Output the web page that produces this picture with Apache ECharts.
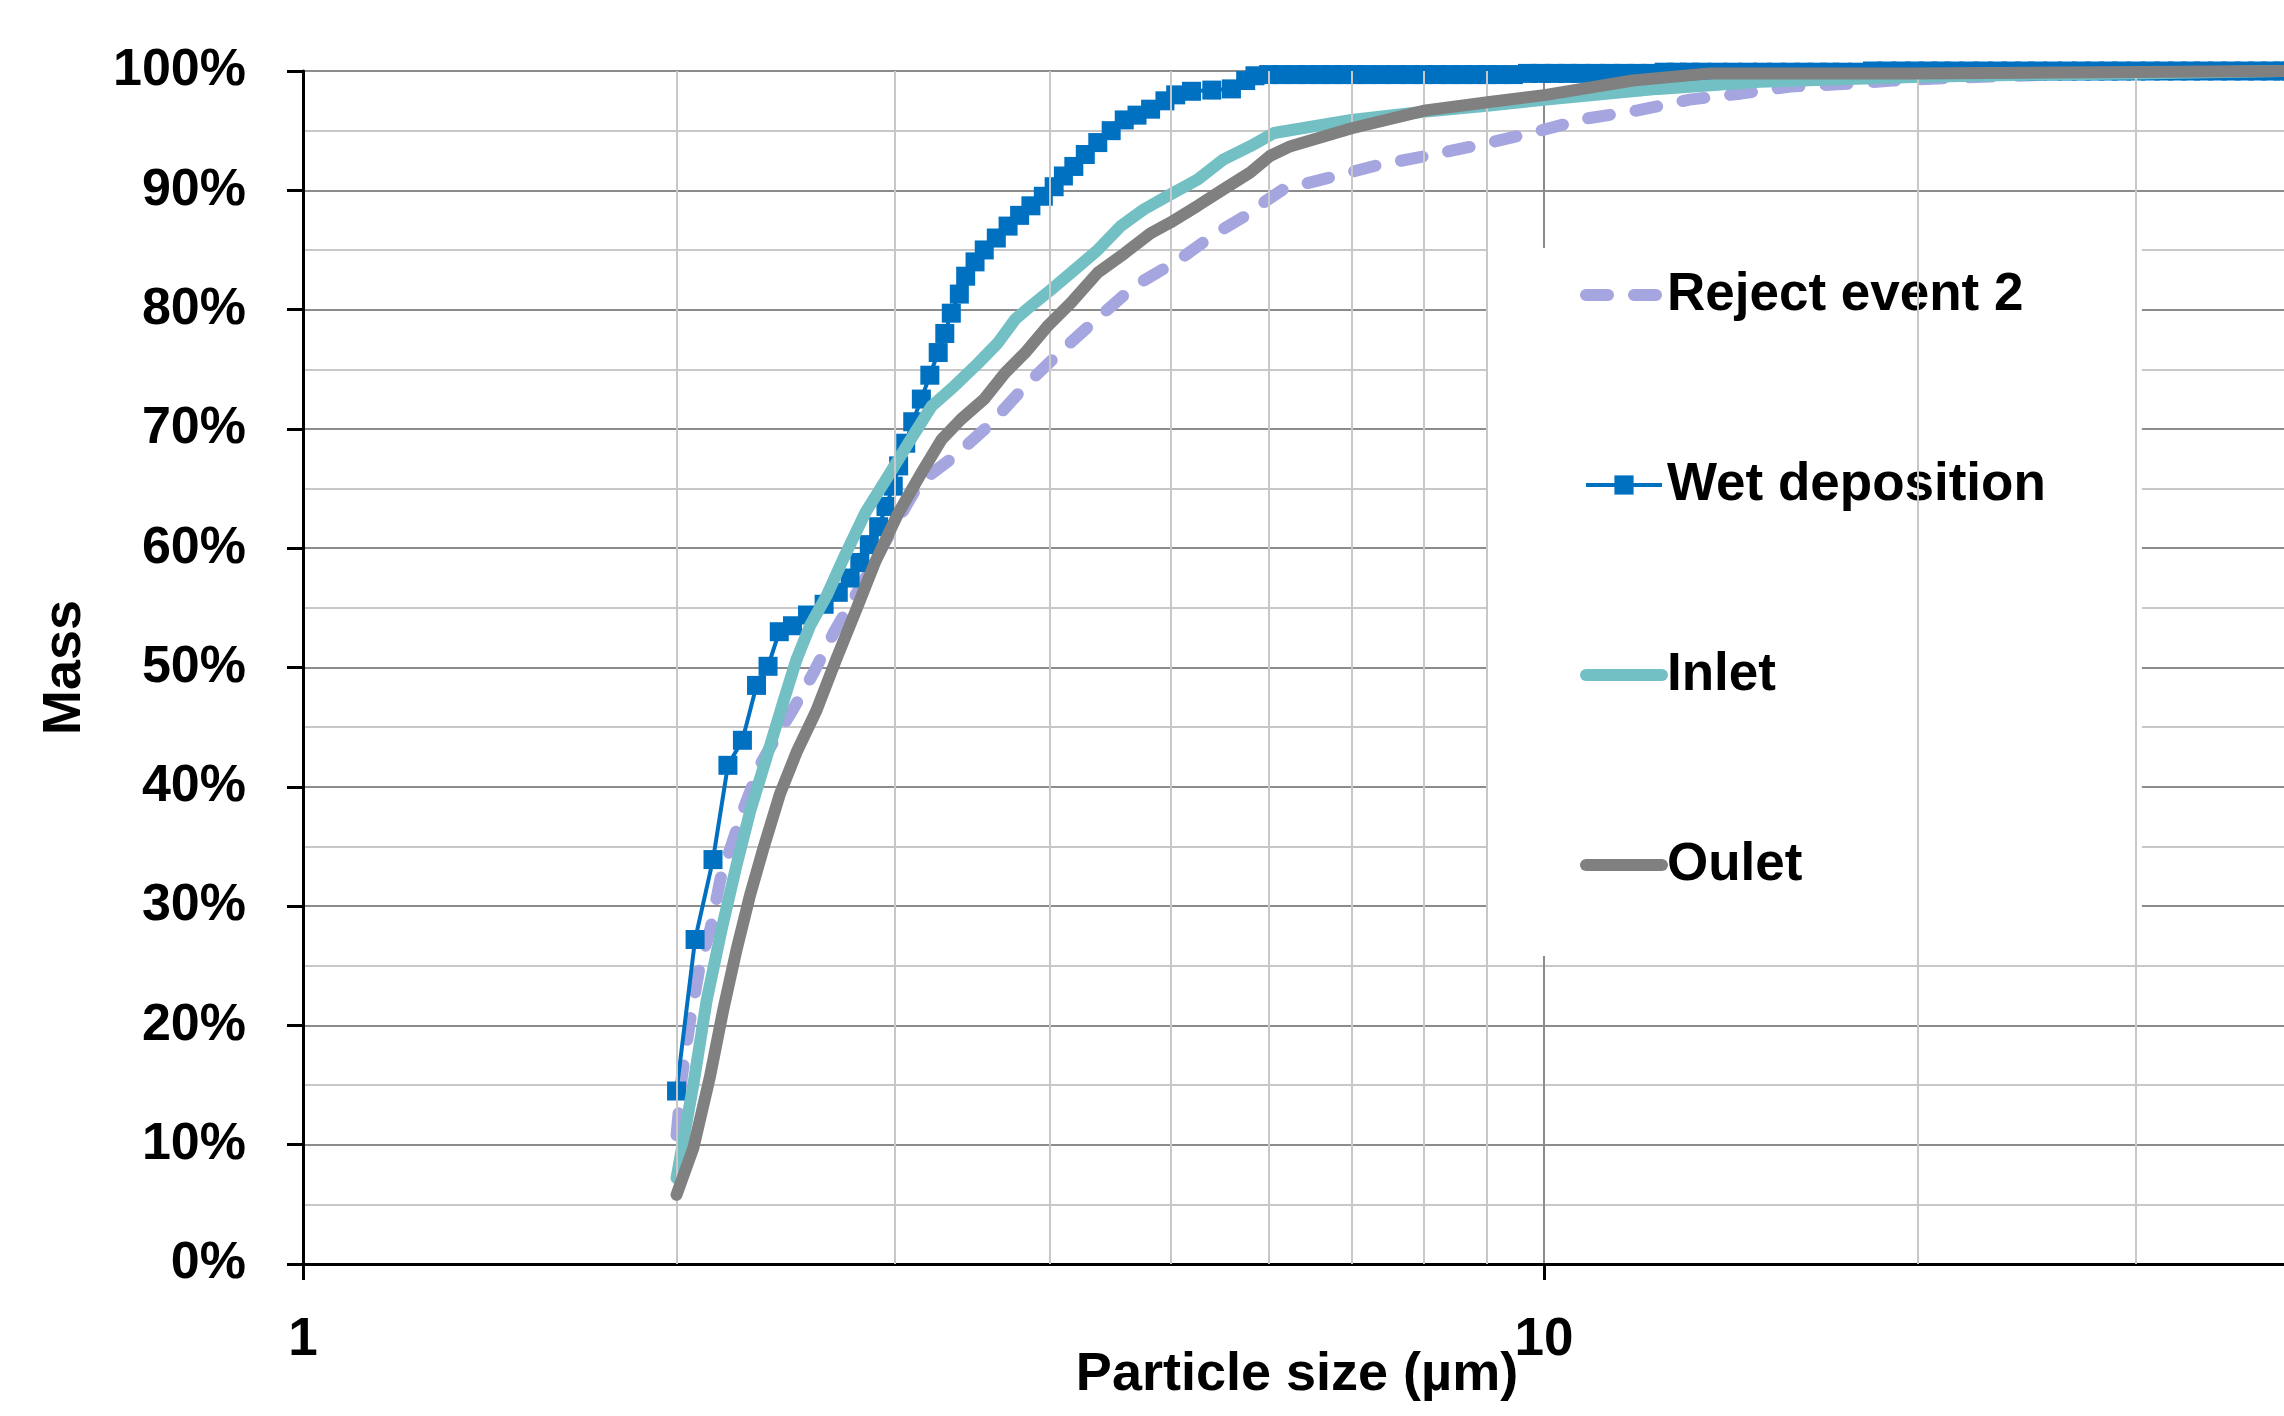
<!DOCTYPE html>
<html><head><meta charset="utf-8">
<script src="https://cdn.jsdelivr.net/npm/echarts@6/dist/echarts.min.js"></script>
<style>html,body{margin:0;padding:0;background:#fff}#c{width:2284px;height:1416px}</style>
</head><body><div id="c"></div>
<script>
// ---- data (particle size in µm, cumulative mass in %) ----
const seriesNames = ['Reject event 2', 'Wet deposition', 'Inlet', 'Oulet'];

const rejectX = [2.00,2.02,2.05,2.09,2.13,2.17,2.26,2.34,2.41,2.48,2.58,2.68,2.84,2.96,3.14,3.34,3.58,3.82,4.08,4.36,4.68,5.07,5.44,5.80,5.95,6.17,6.68,7.34,8.15,8.96,9.85,10.8,11.9,13.1,14.4,15.8,17.4,19.1,21.0,24.0,28.0,33.0,40.0];
const rejectY = [10.8,15.7,20.3,25.2,28.1,32.3,37.9,42.0,44.3,46.4,49.6,53.0,57.5,60.9,65.5,67.6,70.4,73.6,76.5,79.2,82.0,84.1,86.4,88.1,89.0,90.1,91.0,92.1,93.0,93.9,94.9,96.0,96.7,97.6,98.1,98.7,98.9,99.2,99.4,99.6,99.8,99.9,100];

const wetX = [2.00,2.07,2.14,2.20,2.26,2.32,2.37,2.42,2.48,2.55,2.63,2.70,2.76,2.81,2.86,2.91,2.95,2.99,3.02,3.06,3.10,3.15,3.20,3.25,3.29,3.33,3.38,3.42,3.48,3.54,3.62,3.70,3.78,3.86,3.95,4.03,4.10,4.18,4.27,4.37,4.48,4.59,4.70,4.82,4.95,5.05,5.20,5.40,5.60,5.75,5.85,
  6.0,6.15,6.3,6.45,6.6,6.75,6.9,7.05,7.2,7.4,7.6,7.8,8.0,8.2,8.4,8.6,8.8,9.0,9.2,9.45,
  9.7,9.95,10.2,10.45,10.7,11.0,11.3,11.6,11.9,12.2,
  12.5,12.8,13.1,13.4,13.8,14.2,14.6,15.0,15.4,15.8,16.2,16.6,17.0,17.4,17.9,
  18.4,18.9,19.4,19.9,20.4,20.9,21.4,22.0,22.6,23.2,23.8,24.4,25.0,25.7,26.4,27.1,27.8,28.5,29.2,30.0,30.8,31.6,32.4,33.2,34.0,34.9,35.8,36.7,37.6,38.5,39.4,40.0];
const wetY = [14.5,27.2,33.9,41.8,43.9,48.5,50.1,53.0,53.5,54.4,55.3,56.3,57.5,58.8,60.3,61.8,63.5,65.2,66.9,68.8,70.6,72.5,74.5,76.4,78.0,79.7,81.3,82.8,84.0,85.0,86.0,87.0,87.9,88.7,89.5,90.3,91.2,92.0,93.0,94.0,95.0,95.9,96.3,96.8,97.5,98.0,98.3,98.4,98.5,99.2,99.6,
  99.7,99.7,99.7,99.7,99.7,99.7,99.7,99.7,99.7,99.7,99.7,99.7,99.7,99.7,99.7,99.7,99.7,99.7,99.7,99.7,
  99.8,99.8,99.8,99.8,99.8,99.8,99.8,99.8,99.8,99.8,
  99.9,99.9,99.9,99.9,99.9,99.9,99.9,99.9,99.9,99.9,99.9,99.9,99.9,99.9,99.9,
  100,100,100,100,100,100,100,100,100,100,100,100,100,100,100,100,100,100,100,100,100,100,100,100,100,100,100,100,100,100,100,100];

const inletX = [2.00,2.063,2.115,2.175,2.235,2.292,2.364,2.438,2.499,2.562,2.642,2.725,2.84,2.96,3.075,3.21,3.35,3.50,3.63,3.75,3.86,4.01,4.16,4.37,4.56,4.76,4.97,5.26,5.52,5.80,6.06,7.0,8.03,9.04,10.04,12.36,14.93,19.84,25.0,30.0,40.0];
const inletY = [7.2,15.0,22.1,28.1,33.4,37.9,42.5,47.1,50.7,53.5,56.0,59.1,63.0,66.0,68.8,71.9,73.6,75.5,77.2,79.2,80.3,81.7,83.1,85.0,87.0,88.4,89.5,90.9,92.6,93.7,94.8,95.9,96.6,97.1,97.6,98.5,99.1,99.5,99.7,99.8,100];

const outletX = [2.00,2.063,2.128,2.181,2.235,2.292,2.349,2.423,2.499,2.593,2.69,2.793,2.89,3.02,3.15,3.27,3.39,3.54,3.68,3.82,3.98,4.16,4.37,4.59,4.82,5.00,5.26,5.52,5.80,6.02,6.25,7.0,8.03,9.04,10.04,11.79,13.6,19.8,40.0];
const outletY = [5.8,9.7,15.7,21.3,26.3,30.9,34.8,39.4,42.9,46.4,50.7,54.9,58.8,63.0,66.3,69.1,70.8,72.5,74.7,76.4,78.6,80.6,83.1,84.7,86.4,87.3,88.7,90.1,91.5,92.9,93.7,95.2,96.7,97.4,98.0,99.2,99.8,99.8,100];

const xMinorGrid = [2,3,4,5,6,7,8,9,20,30];

// ---- chart ----
const FONT = "'Liberation Sans',Arial,sans-serif";
const zip = (xs, ys) => xs.map((x, i) => [x, ys[i]]);

const chart = echarts.init(document.getElementById('c'), null, {renderer: 'canvas'});
chart.setOption({
  animation: false,
  backgroundColor: '#fff',
  grid: {left: 303, right: -7, top: 71, bottom: 152, containLabel: false, outerBoundsMode: 'none'},
  xAxis: {
    type: 'log', logBase: 10, min: 1, max: 40,
    name: 'Particle size (µm)', nameLocation: 'middle', nameGap: 84, nameMoveOverlap: false,
    nameTextStyle: {fontFamily: FONT, fontWeight: 'bold', fontSize: 54, color: '#000'},
    axisLine: {show: true, lineStyle: {color: '#000', width: 3}},
    axisTick: {show: true, length: 16, lineStyle: {color: '#000', width: 3}},
    axisLabel: {fontFamily: FONT, fontWeight: 'bold', fontSize: 53, color: '#000', margin: 50, showMaxLabel: false},
    splitLine: {show: true, lineStyle: {color: '#8c8c8c', width: 2}},
    minorTick: {show: false}, minorSplitLine: {show: false}
  },
  yAxis: {
    type: 'value', min: 0, max: 100, interval: 10,
    name: 'Mass', nameLocation: 'middle', nameGap: 211, nameMoveOverlap: false,
    nameTextStyle: {fontFamily: FONT, fontWeight: 'bold', fontSize: 54, color: '#000'},
    axisLine: {show: true, lineStyle: {color: '#000', width: 3}},
    axisTick: {show: true, length: 16, lineStyle: {color: '#000', width: 3}},
    axisLabel: {fontFamily: FONT, fontWeight: 'bold', fontSize: 52, color: '#000', margin: 57, formatter: '{value}%'},
    splitLine: {show: true, lineStyle: {color: '#8c8c8c', width: 2}},
    minorTick: {show: false, splitNumber: 2},
    minorSplitLine: {show: true, lineStyle: {color: '#c8c8c8', width: 2}}
  },
  legend: {
    data: [
      {name: seriesNames[0], itemStyle: {opacity: 0}, lineStyle: {width: 12, type: [22, 26], cap: 'round'}},
      {name: seriesNames[1], lineStyle: {width: 4}},
      {name: seriesNames[2], itemStyle: {opacity: 0}, lineStyle: {width: 12, cap: 'round'}},
      {name: seriesNames[3], itemStyle: {opacity: 0}, lineStyle: {width: 12, cap: 'round'}}
    ],
    orient: 'vertical', left: 1486, top: 248,
    padding: [12, 96, 56, 94], itemGap: 120,
    itemWidth: 76, itemHeight: 24,
    backgroundColor: '#fff',
    textStyle: {fontFamily: FONT, fontWeight: 'bold', fontSize: 53, color: '#000', lineHeight: 70}
  },
  series: [
    {
      name: 'grid-minor', type: 'line', data: [], z: 1, silent: true,
      markLine: {silent: true, symbol: 'none', label: {show: false},
        lineStyle: {color: '#c8c8c8', width: 2, type: 'solid'},
        data: xMinorGrid.map(v => ({xAxis: v}))}
    },
    {
      name: seriesNames[0], type: 'line', data: zip(rejectX, rejectY), z: 2,
      symbol: 'none', itemStyle: {color: '#A5A5DF'},
      lineStyle: {color: '#A5A5DF', width: 12, type: [22, 26], cap: 'round', join: 'round'}
    },
    {
      name: seriesNames[1], type: 'line', data: zip(wetX, wetY), z: 3,
      symbol: 'rect', symbolSize: 19, showAllSymbol: true,
      itemStyle: {color: '#0070C0'},
      lineStyle: {color: '#0070C0', width: 4}
    },
    {
      name: seriesNames[2], type: 'line', data: zip(inletX, inletY), z: 4,
      symbol: 'none', itemStyle: {color: '#72BFC4'},
      lineStyle: {color: '#72BFC4', width: 12, cap: 'round', join: 'round'}
    },
    {
      name: seriesNames[3], type: 'line', data: zip(outletX, outletY), z: 5,
      symbol: 'none', itemStyle: {color: '#808080'},
      lineStyle: {color: '#808080', width: 12, cap: 'round', join: 'round'}
    }
  ]
});
</script></body></html>
